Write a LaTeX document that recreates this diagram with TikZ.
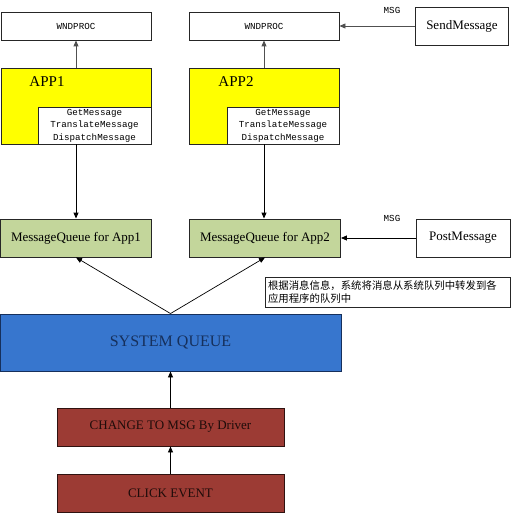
\documentclass[tikz,border=0pt]{standalone}
\usepackage{fontspec}
\setmainfont{Liberation Serif}
\newfontfamily\smallmono{Liberation Mono}
\newfontfamily\cjk{Noto Sans CJK SC}
\usepackage{tikz}
\usetikzlibrary{arrows.meta,positioning}

\definecolor{appyellow}{HTML}{FFFF00}
\definecolor{queuegreen}{HTML}{C3D69B}
\definecolor{sysblue}{HTML}{3776CE}
\definecolor{sysnavy}{HTML}{16305C}
\definecolor{drvred}{HTML}{9C3B34}
\definecolor{linegray}{HTML}{505050}

\begin{document}
\begin{tikzpicture}[
  x=1pt, y=-1pt,
  box/.style={draw=black!85, line width=0.9pt, align=center, inner sep=0pt},
  procbox/.style={box, fill=white, minimum width=150pt, minimum height=28pt, font=\smallmono\fontsize{9.2}{10}\selectfont},
  appbox/.style={box, fill=appyellow, minimum width=150pt, minimum height=76pt},
  callbox/.style={box, fill=white, minimum height=37pt, font=\smallmono\fontsize{9.2}{12.4}\selectfont},
  queuebox/.style={box, fill=queuegreen, minimum width=151pt, minimum height=38pt, font=\fontsize{13}{15}\selectfont},
  apibox/.style={box, fill=white, minimum height=38pt, font=\fontsize{13}{15}\selectfont},
  drvbox/.style={box, fill=drvred, draw=black!70!drvred, minimum width=227pt, minimum height=38pt, text=black!80!drvred, font=\fontsize{13}{15}\selectfont},
  msglabel/.style={font=\smallmono\fontsize{9.2}{10}\selectfont, inner sep=0pt},
  arrow/.style={-{Triangle[length=6pt,width=5pt]}, line width=0.9pt},
  grayarrow/.style={arrow, draw=linegray}
]
\useasboundingbox (0,0) rectangle (511,513);

% top row
\node[procbox] (wp1) at (76,26) {WNDPROC};
\node[procbox] (wp2) at (264,26) {WNDPROC};
\node[apibox, minimum width=93pt] (send) at (462,26) {SendMessage};
\node[msglabel] (msg1) at (392,10) {MSG};

% applications
\node[appbox] (app1) at (76,106) {};
\node[font=\fontsize{15}{17}\selectfont, inner sep=0pt] (app1lbl) at (47,82) {APP1};
\node[callbox, minimum width=113pt] (loop1) at (94.5,125.5) {GetMessage\\TranslateMessage\\DispatchMessage};
\node[appbox] (app2) at (264,106) {};
\node[font=\fontsize{15}{17}\selectfont, inner sep=0pt] (app2lbl) at (236,82) {APP2};
\node[callbox, minimum width=112pt] (loop2) at (283,125.5) {GetMessage\\TranslateMessage\\DispatchMessage};

% message queues
\node[queuebox] (mq1) at (76,238) {MessageQueue for App1};
\node[queuebox] (mq2) at (265,238) {MessageQueue for App2};
\node[apibox, minimum width=94pt] (post) at (463,238) {PostMessage};
\node[msglabel] (msg2) at (392,218) {MSG};

\node[draw=black!85, line width=0.9pt, fill=white, minimum width=245pt, minimum height=30pt,
  text width=239pt, align=left, inner sep=3pt, font=\cjk\fontsize{10.4}{13.6}\selectfont] (note) at (387.5,292)
  {根据消息信息，系统将消息从系统队列中转发到各\\应用程序的队列中};

% system side
\node[box, fill=sysblue, draw=sysnavy, minimum width=341pt, minimum height=57pt,
  text=sysnavy, font=\fontsize{16}{18}\selectfont] (sq) at (170.5,342.5) {SYSTEM QUEUE};
\node[drvbox] (chg) at (170.5,427) {CHANGE TO MSG By Driver};
\node[drvbox] (click) at (170.5,493) {CLICK EVENT};

\draw[grayarrow] (app1.north) -- (wp1.south);
\draw[grayarrow] (app2.north) -- (wp2.south);
\draw[grayarrow] (send.west) -- (wp2.east);
\draw[arrow] (app1.south) -- (app1.south |- mq1.north);
\draw[arrow] (app2.south) -- (app2.south |- mq2.north);
\draw[arrow] (post.west) -- (mq2.east);
\draw[arrow, line width=0.7pt] (sq.north) -- (mq1.south);
\draw[arrow, line width=0.7pt] (sq.north) -- (mq2.south);
\draw[arrow] (chg.north) -- (sq.south);
\draw[arrow] (click.north) -- (chg.south);
\end{tikzpicture}
\end{document}
